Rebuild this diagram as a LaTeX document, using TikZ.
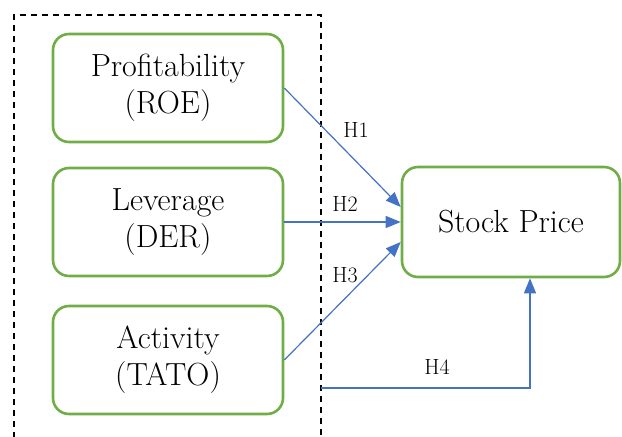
\documentclass[tikz,border=0pt]{standalone}
\usetikzlibrary{arrows.meta,calc}
\definecolor{boxgreen}{HTML}{70AD47}
\definecolor{arrowblue}{HTML}{4472C4}
\tikzset{
  varbox/.style={draw=boxgreen, line width=2.6pt, rounded corners=16pt, fill=white,
    minimum width=230pt, minimum height=108pt, align=center,
    font=\fontsize{32}{37}\selectfont, inner sep=0pt},
  hyparrow/.style={draw=arrowblue, line width=1.2pt, -{Triangle[length=15pt,width=12pt]}},
  hyplabel/.style={font=\fontsize{22}{26}\selectfont, inner sep=0pt},
  groupbox/.style={draw=black, line width=1.8pt, dash pattern=on 6pt off 5pt}
}
\begin{document}
\begin{tikzpicture}[x=1pt,y=-1pt]
\useasboundingbox (0,0) rectangle (622,437);
\clip (0,0) rectangle (622,437);
\draw[groupbox] (14,460) -- (14,15) -- (321,15) -- (321,460);
\node[varbox] (roe) at (168,88) {Profitability\\(ROE)};
\node[varbox] (der) at (168,222) {Leverage\\(DER)};
\node[varbox] (tato) at (168,360) {Activity\\(TATO)};
\node[varbox, minimum width=218pt, minimum height=110pt] (sp) at (511,222) {Stock Price};
\coordinate (h4s) at (321,388);
\draw[hyparrow] (roe.east) -- ($(sp.west)+(0,-15)$);
\draw[hyparrow] (der.east) -- (sp.west);
\draw[hyparrow] (tato.east) -- ($(sp.west)+(0,20)$);
\draw[hyparrow] (h4s) -| ($(sp.south)+(19,0)$);
\node[hyplabel] (h1) at (356,130) {H1};
\node[hyplabel] (h2) at (345,204) {H2};
\node[hyplabel] (h3) at (345,275) {H3};
\node[hyplabel] (h4) at (437,367) {H4};
\end{tikzpicture}
\end{document}
